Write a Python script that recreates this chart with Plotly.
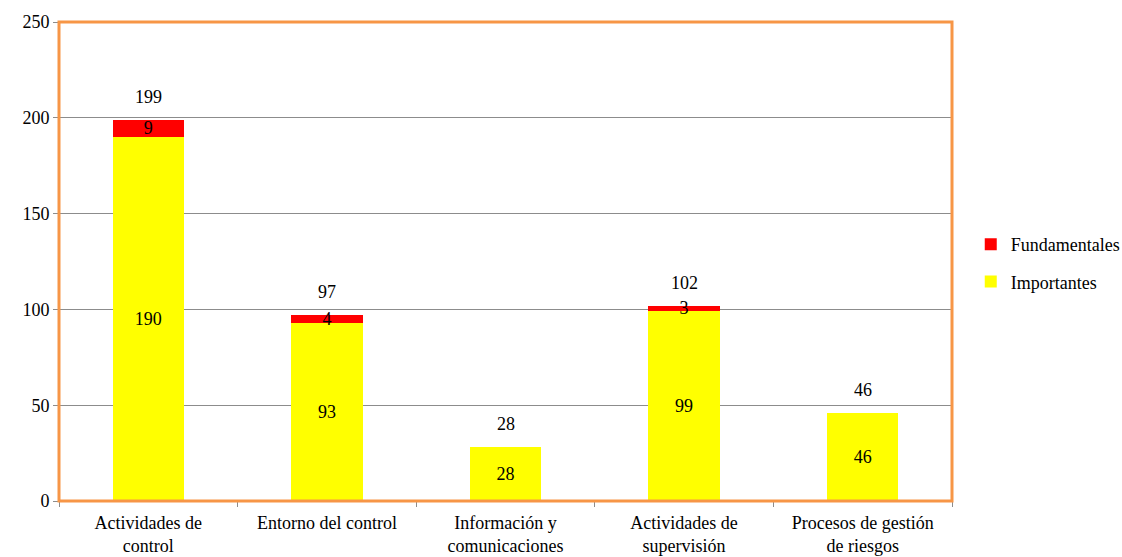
import plotly.graph_objects as go

categories = ["Actividades de<br>control", "Entorno del control", "Información y<br>comunicaciones",
              "Actividades de<br>supervisión", "Procesos de gestión<br>de riesgos"]
importantes = [190, 93, 28, 99, 46]
fundamentales = [9, 4, 0, 3, 0]
totals = [i + f for i, f in zip(importantes, fundamentales)]

FONT = "Liberation Serif, Times New Roman, serif"
GRID = "#8c8c8c"
ORANGE = "#F79646"
FS = 18

fig = go.Figure()
fig.add_trace(go.Bar(
    x=categories, y=importantes, name="Importantes", marker_color="#FFFF00",
    marker_line_width=0, width=0.4, legendrank=2, legendgroup="imp",
    text=[str(v) if v else "" for v in importantes], textposition="inside", textangle=0,
    insidetextanchor="middle", textfont=dict(color="black", size=FS, family=FONT),
    hoverinfo="skip",
))
fig.add_trace(go.Bar(
    x=categories, y=fundamentales, name="Fundamentales", marker_color="#FF0000",
    marker_line_width=0, width=0.4, legendrank=1, legendgroup="fun",
    text=[str(v) if v else "" for v in fundamentales], textposition="inside", textangle=0,
    insidetextanchor="middle", textfont=dict(color="black", size=FS, family=FONT),
    hoverinfo="skip",
))

for c, t in zip(categories, totals):
    fig.add_annotation(x=c, y=t, text=str(t), showarrow=False, yanchor="bottom",
                       yshift=11, font=dict(size=FS, color="black", family=FONT))

fig.add_shape(type="rect", xref="paper", yref="paper", x0=0, x1=1, y0=0, y1=1,
              line=dict(color=ORANGE, width=3), layer="above")

fig.update_layout(
    width=1122, height=557,
    margin=dict(l=59, r=170, t=22, b=56, autoexpand=False),
    barmode="stack",
    bargap=0.6,
    plot_bgcolor="white", paper_bgcolor="white",
    font=dict(family=FONT, size=FS, color="black"),
    uniformtext=dict(minsize=FS, mode="show"),
    legend=dict(x=1.021, y=0.497, xanchor="left", yanchor="middle",
                traceorder="grouped", tracegroupgap=11,
                font=dict(size=FS, family=FONT), itemwidth=30),
    showlegend=True,
)
fig.update_xaxes(showline=True, linecolor=GRID, linewidth=1, ticks="outside",
                 tickson="boundaries", ticklen=5, tickcolor=GRID, showgrid=False,
                 ticklabelstandoff=5, tickfont=dict(size=FS, family=FONT))
fig.update_yaxes(range=[0, 250], dtick=50, showline=True, linecolor=GRID, linewidth=1,
                 ticks="outside", ticklen=5, tickcolor=GRID, showgrid=True,
                 gridcolor=GRID, gridwidth=1, zeroline=False,
                 tickfont=dict(size=FS, family=FONT))

fig.write_html("out.html")
